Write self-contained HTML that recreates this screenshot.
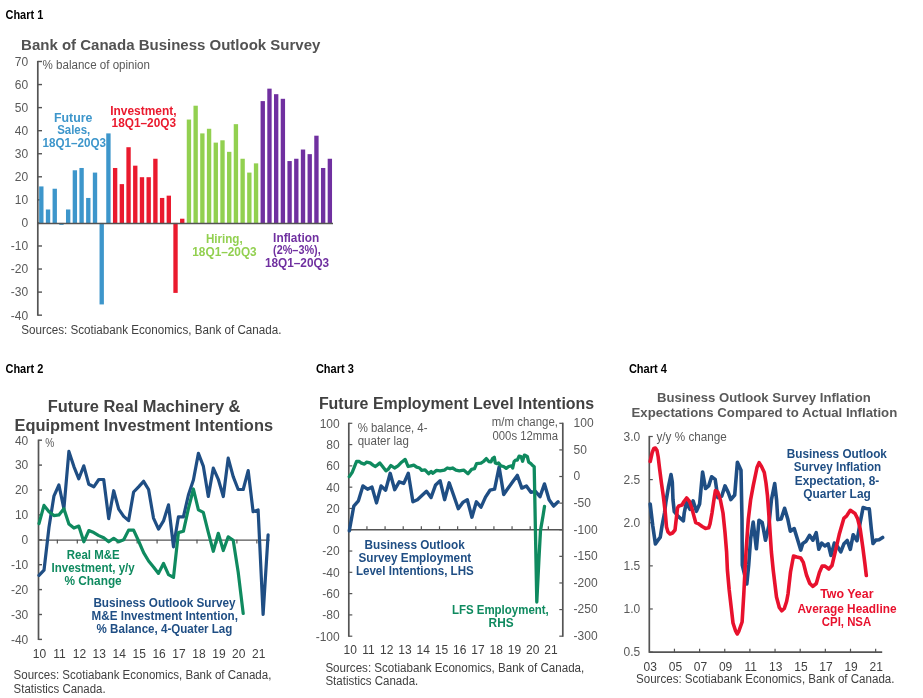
<!DOCTYPE html>
<html lang="en"><head><meta charset="utf-8"><title>Charts</title>
<style>
html,body{margin:0;padding:0;background:#fff;}
body{width:923px;height:698px;overflow:hidden;}
svg{display:block;font-family:'Liberation Sans', Arial, sans-serif;}
</style></head><body>
<svg width="923" height="698" viewBox="0 0 923 698">
<rect width="923" height="698" fill="#fff"/>
<text x="5.5" y="18.7" font-size="13.2" fill="#000" font-weight="bold" text-anchor="start" textLength="37.8" lengthAdjust="spacingAndGlyphs">Chart 1</text>
<text x="5.5" y="372.9" font-size="13.2" fill="#000" font-weight="bold" text-anchor="start" textLength="37.8" lengthAdjust="spacingAndGlyphs">Chart 2</text>
<text x="315.9" y="373.2" font-size="13.2" fill="#000" font-weight="bold" text-anchor="start" textLength="38.0" lengthAdjust="spacingAndGlyphs">Chart 3</text>
<text x="628.9" y="373.2" font-size="13.2" fill="#000" font-weight="bold" text-anchor="start" textLength="38.0" lengthAdjust="spacingAndGlyphs">Chart 4</text>
<text x="21.1" y="49.7" font-size="15" fill="#525252" font-weight="bold" text-anchor="start" textLength="299.3" lengthAdjust="spacingAndGlyphs">Bank of Canada Business Outlook Survey</text>
<line x1="37.80" y1="60.90" x2="37.80" y2="315.76" stroke="#545454" stroke-width="1.7"/>
<line x1="37.80" y1="61.50" x2="42.00" y2="61.50" stroke="#545454" stroke-width="1.4"/>
<text x="28.2" y="65.8" font-size="12" fill="#595959" font-weight="normal" text-anchor="end">70</text>
<line x1="37.80" y1="84.56" x2="42.00" y2="84.56" stroke="#545454" stroke-width="1.4"/>
<text x="28.2" y="88.9" font-size="12" fill="#595959" font-weight="normal" text-anchor="end">60</text>
<line x1="37.80" y1="107.62" x2="42.00" y2="107.62" stroke="#545454" stroke-width="1.4"/>
<text x="28.2" y="111.9" font-size="12" fill="#595959" font-weight="normal" text-anchor="end">50</text>
<line x1="37.80" y1="130.68" x2="42.00" y2="130.68" stroke="#545454" stroke-width="1.4"/>
<text x="28.2" y="135.0" font-size="12" fill="#595959" font-weight="normal" text-anchor="end">40</text>
<line x1="37.80" y1="153.74" x2="42.00" y2="153.74" stroke="#545454" stroke-width="1.4"/>
<text x="28.2" y="158.0" font-size="12" fill="#595959" font-weight="normal" text-anchor="end">30</text>
<line x1="37.80" y1="176.80" x2="42.00" y2="176.80" stroke="#545454" stroke-width="1.4"/>
<text x="28.2" y="181.1" font-size="12" fill="#595959" font-weight="normal" text-anchor="end">20</text>
<line x1="37.80" y1="199.86" x2="42.00" y2="199.86" stroke="#545454" stroke-width="1.4"/>
<text x="28.2" y="204.2" font-size="12" fill="#595959" font-weight="normal" text-anchor="end">10</text>
<line x1="37.80" y1="222.92" x2="42.00" y2="222.92" stroke="#545454" stroke-width="1.4"/>
<text x="28.2" y="227.2" font-size="12" fill="#595959" font-weight="normal" text-anchor="end">0</text>
<line x1="37.80" y1="245.98" x2="42.00" y2="245.98" stroke="#545454" stroke-width="1.4"/>
<text x="28.2" y="250.3" font-size="12" fill="#595959" font-weight="normal" text-anchor="end">-10</text>
<line x1="37.80" y1="269.04" x2="42.00" y2="269.04" stroke="#545454" stroke-width="1.4"/>
<text x="28.2" y="273.3" font-size="12" fill="#595959" font-weight="normal" text-anchor="end">-20</text>
<line x1="37.80" y1="292.10" x2="42.00" y2="292.10" stroke="#545454" stroke-width="1.4"/>
<text x="28.2" y="296.4" font-size="12" fill="#595959" font-weight="normal" text-anchor="end">-30</text>
<line x1="37.80" y1="315.16" x2="42.00" y2="315.16" stroke="#545454" stroke-width="1.4"/>
<text x="28.2" y="319.5" font-size="12" fill="#595959" font-weight="normal" text-anchor="end">-40</text>
<text x="42.5" y="69.3" font-size="12" fill="#595959" font-weight="normal" text-anchor="start" textLength="107.5" lengthAdjust="spacingAndGlyphs">% balance of opinion</text>
<rect x="39.15" y="186.42" width="4.35" height="36.90" fill="#3d96cb"/>
<rect x="45.86" y="209.48" width="4.35" height="13.84" fill="#3d96cb"/>
<rect x="52.57" y="188.73" width="4.35" height="34.59" fill="#3d96cb"/>
<rect x="59.28" y="222.92" width="4.35" height="1.95" fill="#3d96cb"/>
<rect x="65.99" y="209.48" width="4.35" height="13.84" fill="#3d96cb"/>
<rect x="72.70" y="170.28" width="4.35" height="53.04" fill="#3d96cb"/>
<rect x="79.41" y="167.98" width="4.35" height="55.34" fill="#3d96cb"/>
<rect x="86.12" y="197.95" width="4.35" height="25.37" fill="#3d96cb"/>
<rect x="92.83" y="172.59" width="4.35" height="50.73" fill="#3d96cb"/>
<rect x="99.54" y="222.92" width="4.35" height="81.51" fill="#3d96cb"/>
<rect x="106.25" y="133.39" width="4.35" height="89.93" fill="#3d96cb"/>
<rect x="112.96" y="167.98" width="4.35" height="55.34" fill="#ea1a2e"/>
<rect x="119.67" y="184.12" width="4.35" height="39.20" fill="#ea1a2e"/>
<rect x="126.38" y="147.22" width="4.35" height="76.10" fill="#ea1a2e"/>
<rect x="133.09" y="165.67" width="4.35" height="57.65" fill="#ea1a2e"/>
<rect x="139.80" y="177.20" width="4.35" height="46.12" fill="#ea1a2e"/>
<rect x="146.51" y="177.20" width="4.35" height="46.12" fill="#ea1a2e"/>
<rect x="153.22" y="158.75" width="4.35" height="64.57" fill="#ea1a2e"/>
<rect x="159.93" y="197.95" width="4.35" height="25.37" fill="#ea1a2e"/>
<rect x="166.64" y="195.65" width="4.35" height="27.67" fill="#ea1a2e"/>
<rect x="173.35" y="222.92" width="4.35" height="69.98" fill="#ea1a2e"/>
<rect x="180.06" y="218.71" width="4.35" height="4.61" fill="#ea1a2e"/>
<rect x="186.77" y="119.55" width="4.35" height="103.77" fill="#92d050"/>
<rect x="193.48" y="105.71" width="4.35" height="117.61" fill="#92d050"/>
<rect x="200.19" y="133.39" width="4.35" height="89.93" fill="#92d050"/>
<rect x="206.90" y="128.77" width="4.35" height="94.55" fill="#92d050"/>
<rect x="213.61" y="142.61" width="4.35" height="80.71" fill="#92d050"/>
<rect x="220.32" y="140.30" width="4.35" height="83.02" fill="#92d050"/>
<rect x="227.03" y="151.83" width="4.35" height="71.49" fill="#92d050"/>
<rect x="233.74" y="124.16" width="4.35" height="99.16" fill="#92d050"/>
<rect x="240.45" y="158.75" width="4.35" height="64.57" fill="#92d050"/>
<rect x="247.16" y="172.59" width="4.35" height="50.73" fill="#92d050"/>
<rect x="253.87" y="163.36" width="4.35" height="59.96" fill="#92d050"/>
<rect x="260.58" y="101.10" width="4.35" height="122.22" fill="#7030a0"/>
<rect x="267.29" y="88.65" width="4.35" height="134.67" fill="#7030a0"/>
<rect x="274.00" y="94.18" width="4.35" height="129.14" fill="#7030a0"/>
<rect x="280.71" y="98.80" width="4.35" height="124.52" fill="#7030a0"/>
<rect x="287.42" y="161.06" width="4.35" height="62.26" fill="#7030a0"/>
<rect x="294.13" y="158.75" width="4.35" height="64.57" fill="#7030a0"/>
<rect x="300.84" y="149.53" width="4.35" height="73.79" fill="#7030a0"/>
<rect x="307.55" y="154.14" width="4.35" height="69.18" fill="#7030a0"/>
<rect x="314.26" y="135.69" width="4.35" height="87.63" fill="#7030a0"/>
<rect x="320.97" y="167.98" width="4.35" height="55.34" fill="#7030a0"/>
<rect x="327.68" y="158.75" width="4.35" height="64.57" fill="#7030a0"/>
<line x1="37.80" y1="223.52" x2="333.00" y2="223.52" stroke="#545454" stroke-width="1.5"/>
<text x="54.0" y="121.6" font-size="12" fill="#3d96cb" font-weight="bold" text-anchor="start" textLength="38.4" lengthAdjust="spacingAndGlyphs">Future</text>
<text x="57.2" y="134.3" font-size="12" fill="#3d96cb" font-weight="bold" text-anchor="start" textLength="33.1" lengthAdjust="spacingAndGlyphs">Sales,</text>
<text x="42.6" y="147.3" font-size="12" fill="#3d96cb" font-weight="bold" text-anchor="start" textLength="63.5" lengthAdjust="spacingAndGlyphs">18Q1–20Q3</text>
<text x="110.2" y="114.7" font-size="12" fill="#ea1a2e" font-weight="bold" text-anchor="start" textLength="66.3" lengthAdjust="spacingAndGlyphs">Investment,</text>
<text x="111.6" y="127.4" font-size="12" fill="#ea1a2e" font-weight="bold" text-anchor="start" textLength="64.4" lengthAdjust="spacingAndGlyphs">18Q1–20Q3</text>
<text x="205.9" y="242.8" font-size="12" fill="#92d050" font-weight="bold" text-anchor="start" textLength="36.8" lengthAdjust="spacingAndGlyphs">Hiring,</text>
<text x="192.3" y="255.7" font-size="12" fill="#92d050" font-weight="bold" text-anchor="start" textLength="64.4" lengthAdjust="spacingAndGlyphs">18Q1–20Q3</text>
<text x="273.1" y="241.5" font-size="12" fill="#7030a0" font-weight="bold" text-anchor="start" textLength="46.1" lengthAdjust="spacingAndGlyphs">Inflation</text>
<text x="273.1" y="254.2" font-size="12" fill="#7030a0" font-weight="bold" text-anchor="start" textLength="47.6" lengthAdjust="spacingAndGlyphs">(2%–3%),</text>
<text x="264.9" y="267.3" font-size="12" fill="#7030a0" font-weight="bold" text-anchor="start" textLength="64.3" lengthAdjust="spacingAndGlyphs">18Q1–20Q3</text>
<text x="21.3" y="334.2" font-size="12" fill="#404040" font-weight="normal" text-anchor="start" textLength="260.1" lengthAdjust="spacingAndGlyphs">Sources: Scotiabank Economics, Bank of Canada.</text>
<text x="47.8" y="412.3" font-size="16" fill="#424242" font-weight="bold" text-anchor="start" textLength="192.7" lengthAdjust="spacingAndGlyphs">Future Real Machinery &amp;</text>
<text x="14.6" y="431.1" font-size="16" fill="#424242" font-weight="bold" text-anchor="start" textLength="258.4" lengthAdjust="spacingAndGlyphs">Equipment Investment Intentions</text>
<line x1="38.50" y1="439.60" x2="38.50" y2="640.00" stroke="#545454" stroke-width="1.7"/>
<line x1="38.50" y1="440.20" x2="42.00" y2="440.20" stroke="#545454" stroke-width="1.4"/>
<text x="28.3" y="444.5" font-size="12" fill="#595959" font-weight="normal" text-anchor="end">40</text>
<line x1="38.50" y1="465.10" x2="42.00" y2="465.10" stroke="#545454" stroke-width="1.4"/>
<text x="28.3" y="469.4" font-size="12" fill="#595959" font-weight="normal" text-anchor="end">30</text>
<line x1="38.50" y1="490.00" x2="42.00" y2="490.00" stroke="#545454" stroke-width="1.4"/>
<text x="28.3" y="494.3" font-size="12" fill="#595959" font-weight="normal" text-anchor="end">20</text>
<line x1="38.50" y1="514.90" x2="42.00" y2="514.90" stroke="#545454" stroke-width="1.4"/>
<text x="28.3" y="519.2" font-size="12" fill="#595959" font-weight="normal" text-anchor="end">10</text>
<line x1="38.50" y1="539.80" x2="42.00" y2="539.80" stroke="#545454" stroke-width="1.4"/>
<text x="28.3" y="544.1" font-size="12" fill="#595959" font-weight="normal" text-anchor="end">0</text>
<line x1="38.50" y1="564.70" x2="42.00" y2="564.70" stroke="#545454" stroke-width="1.4"/>
<text x="28.3" y="569.0" font-size="12" fill="#595959" font-weight="normal" text-anchor="end">-10</text>
<line x1="38.50" y1="589.60" x2="42.00" y2="589.60" stroke="#545454" stroke-width="1.4"/>
<text x="28.3" y="593.9" font-size="12" fill="#595959" font-weight="normal" text-anchor="end">-20</text>
<line x1="38.50" y1="614.50" x2="42.00" y2="614.50" stroke="#545454" stroke-width="1.4"/>
<text x="28.3" y="618.8" font-size="12" fill="#595959" font-weight="normal" text-anchor="end">-30</text>
<line x1="38.50" y1="639.40" x2="42.00" y2="639.40" stroke="#545454" stroke-width="1.4"/>
<text x="28.3" y="643.7" font-size="12" fill="#595959" font-weight="normal" text-anchor="end">-40</text>
<text x="45.2" y="447.0" font-size="12" fill="#595959" font-weight="normal" text-anchor="start" textLength="9.0" lengthAdjust="spacingAndGlyphs">%</text>
<line x1="38.50" y1="540.10" x2="269.50" y2="540.10" stroke="#545454" stroke-width="1.4"/>
<text x="39.5" y="657.5" font-size="12" fill="#404040" font-weight="normal" text-anchor="middle">10</text>
<line x1="57.35" y1="539.80" x2="57.35" y2="543.60" stroke="#545454" stroke-width="1.2"/>
<text x="59.4" y="657.5" font-size="12" fill="#404040" font-weight="normal" text-anchor="middle">11</text>
<line x1="77.30" y1="539.80" x2="77.30" y2="543.60" stroke="#545454" stroke-width="1.2"/>
<text x="79.4" y="657.5" font-size="12" fill="#404040" font-weight="normal" text-anchor="middle">12</text>
<line x1="97.25" y1="539.80" x2="97.25" y2="543.60" stroke="#545454" stroke-width="1.2"/>
<text x="99.3" y="657.5" font-size="12" fill="#404040" font-weight="normal" text-anchor="middle">13</text>
<line x1="117.20" y1="539.80" x2="117.20" y2="543.60" stroke="#545454" stroke-width="1.2"/>
<text x="119.2" y="657.5" font-size="12" fill="#404040" font-weight="normal" text-anchor="middle">14</text>
<line x1="137.15" y1="539.80" x2="137.15" y2="543.60" stroke="#545454" stroke-width="1.2"/>
<text x="139.2" y="657.5" font-size="12" fill="#404040" font-weight="normal" text-anchor="middle">15</text>
<line x1="157.10" y1="539.80" x2="157.10" y2="543.60" stroke="#545454" stroke-width="1.2"/>
<text x="159.1" y="657.5" font-size="12" fill="#404040" font-weight="normal" text-anchor="middle">16</text>
<line x1="177.05" y1="539.80" x2="177.05" y2="543.60" stroke="#545454" stroke-width="1.2"/>
<text x="179.0" y="657.5" font-size="12" fill="#404040" font-weight="normal" text-anchor="middle">17</text>
<line x1="197.00" y1="539.80" x2="197.00" y2="543.60" stroke="#545454" stroke-width="1.2"/>
<text x="198.9" y="657.5" font-size="12" fill="#404040" font-weight="normal" text-anchor="middle">18</text>
<line x1="216.95" y1="539.80" x2="216.95" y2="543.60" stroke="#545454" stroke-width="1.2"/>
<text x="218.9" y="657.5" font-size="12" fill="#404040" font-weight="normal" text-anchor="middle">19</text>
<line x1="236.90" y1="539.80" x2="236.90" y2="543.60" stroke="#545454" stroke-width="1.2"/>
<text x="238.8" y="657.5" font-size="12" fill="#404040" font-weight="normal" text-anchor="middle">20</text>
<line x1="256.85" y1="539.80" x2="256.85" y2="543.60" stroke="#545454" stroke-width="1.2"/>
<text x="258.7" y="657.5" font-size="12" fill="#404040" font-weight="normal" text-anchor="middle">21</text>
<polyline points="39.0,575.4 44.0,570.2 49.0,527.3 53.9,496.2 58.9,485.0 63.9,508.7 68.9,451.4 73.9,466.6 78.8,478.8 83.8,465.8 88.8,484.3 93.8,486.8 98.8,479.5 103.7,479.5 108.7,518.6 113.7,490.7 118.7,509.2 123.7,516.4 128.6,520.6 133.6,492.0 138.6,486.8 143.6,481.3 148.6,489.5 153.5,518.1 158.5,529.1 163.5,520.9 168.5,504.9 173.5,546.8 178.4,516.9 183.4,516.9 188.4,495.0 193.4,480.0 198.4,453.4 203.3,466.1 208.3,496.5 213.3,468.1 218.3,479.3 223.3,496.5 228.2,458.1 233.2,476.6 238.2,489.5 243.2,489.5 248.2,470.6 253.1,511.7 258.1,509.9 263.1,614.5 268.1,534.8" fill="none" stroke="#1f4e84" stroke-width="3.2" stroke-linejoin="round" stroke-linecap="round"/>
<polyline points="39.0,523.6 44.0,505.4 49.0,511.7 53.9,515.6 58.9,514.9 63.9,508.7 68.9,524.1 73.9,528.1 78.8,526.1 83.8,541.8 88.8,530.6 93.8,532.6 98.8,535.6 103.7,537.8 108.7,541.8 113.7,538.3 118.7,541.8 123.7,539.8 128.6,530.1 133.6,530.1 138.6,541.0 143.6,552.7 148.6,561.0 153.5,566.9 158.5,573.4 163.5,563.5 168.5,574.7 173.5,577.4 178.4,532.6 183.4,531.3 188.4,508.7 193.4,489.0 198.4,509.9 203.3,512.4 208.3,532.3 213.3,551.3 218.3,533.3 223.3,550.5 228.2,536.8 233.2,540.3 238.2,572.2 243.2,613.5" fill="none" stroke="#0f8a5f" stroke-width="3.2" stroke-linejoin="round" stroke-linecap="round"/>
<text x="66.8" y="558.5" font-size="12" fill="#0f8a5f" font-weight="bold" text-anchor="start" textLength="52.9" lengthAdjust="spacingAndGlyphs">Real M&amp;E</text>
<text x="51.5" y="571.8" font-size="12" fill="#0f8a5f" font-weight="bold" text-anchor="start" textLength="83.2" lengthAdjust="spacingAndGlyphs">Investment, y/y</text>
<text x="64.5" y="585.4" font-size="12" fill="#0f8a5f" font-weight="bold" text-anchor="start" textLength="57.2" lengthAdjust="spacingAndGlyphs">% Change</text>
<text x="93.4" y="607.0" font-size="12" fill="#1f4e84" font-weight="bold" text-anchor="start" textLength="142.2" lengthAdjust="spacingAndGlyphs">Business Outlook Survey</text>
<text x="91.6" y="619.8" font-size="12" fill="#1f4e84" font-weight="bold" text-anchor="start" textLength="146.3" lengthAdjust="spacingAndGlyphs">M&amp;E Investment Intention,</text>
<text x="96.6" y="633.3" font-size="12" fill="#1f4e84" font-weight="bold" text-anchor="start" textLength="135.8" lengthAdjust="spacingAndGlyphs">% Balance, 4-Quater Lag</text>
<text x="13.6" y="679.0" font-size="12" fill="#404040" font-weight="normal" text-anchor="start" textLength="257.8" lengthAdjust="spacingAndGlyphs">Sources: Scotiabank Economics, Bank of Canada,</text>
<text x="13.6" y="692.5" font-size="12" fill="#404040" font-weight="normal" text-anchor="start" textLength="92.0" lengthAdjust="spacingAndGlyphs">Statistics Canada.</text>
<text x="318.9" y="408.6" font-size="15.6" fill="#404040" font-weight="bold" text-anchor="start" textLength="275.3" lengthAdjust="spacingAndGlyphs">Future Employment Level Intentions</text>
<line x1="348.80" y1="422.70" x2="348.80" y2="636.80" stroke="#545454" stroke-width="1.7"/>
<line x1="562.80" y1="422.70" x2="562.80" y2="636.80" stroke="#545454" stroke-width="1.7"/>
<line x1="348.80" y1="423.30" x2="352.30" y2="423.30" stroke="#545454" stroke-width="1.2"/>
<text x="339.7" y="427.6" font-size="12" fill="#595959" font-weight="normal" text-anchor="end">100</text>
<line x1="348.80" y1="444.59" x2="352.30" y2="444.59" stroke="#545454" stroke-width="1.2"/>
<text x="339.7" y="448.9" font-size="12" fill="#595959" font-weight="normal" text-anchor="end">80</text>
<line x1="348.80" y1="465.88" x2="352.30" y2="465.88" stroke="#545454" stroke-width="1.2"/>
<text x="339.7" y="470.2" font-size="12" fill="#595959" font-weight="normal" text-anchor="end">60</text>
<line x1="348.80" y1="487.17" x2="352.30" y2="487.17" stroke="#545454" stroke-width="1.2"/>
<text x="339.7" y="491.5" font-size="12" fill="#595959" font-weight="normal" text-anchor="end">40</text>
<line x1="348.80" y1="508.46" x2="352.30" y2="508.46" stroke="#545454" stroke-width="1.2"/>
<text x="339.7" y="512.8" font-size="12" fill="#595959" font-weight="normal" text-anchor="end">20</text>
<line x1="348.80" y1="529.75" x2="352.30" y2="529.75" stroke="#545454" stroke-width="1.2"/>
<text x="339.7" y="534.0" font-size="12" fill="#595959" font-weight="normal" text-anchor="end">0</text>
<line x1="348.80" y1="551.04" x2="352.30" y2="551.04" stroke="#545454" stroke-width="1.2"/>
<text x="339.7" y="555.3" font-size="12" fill="#595959" font-weight="normal" text-anchor="end">-20</text>
<line x1="348.80" y1="572.33" x2="352.30" y2="572.33" stroke="#545454" stroke-width="1.2"/>
<text x="339.7" y="576.6" font-size="12" fill="#595959" font-weight="normal" text-anchor="end">-40</text>
<line x1="348.80" y1="593.62" x2="352.30" y2="593.62" stroke="#545454" stroke-width="1.2"/>
<text x="339.7" y="597.9" font-size="12" fill="#595959" font-weight="normal" text-anchor="end">-60</text>
<line x1="348.80" y1="614.91" x2="352.30" y2="614.91" stroke="#545454" stroke-width="1.2"/>
<text x="339.7" y="619.2" font-size="12" fill="#595959" font-weight="normal" text-anchor="end">-80</text>
<line x1="348.80" y1="636.20" x2="352.30" y2="636.20" stroke="#545454" stroke-width="1.2"/>
<text x="339.7" y="640.5" font-size="12" fill="#595959" font-weight="normal" text-anchor="end">-100</text>
<line x1="559.30" y1="423.30" x2="562.80" y2="423.30" stroke="#545454" stroke-width="1.2"/>
<text x="573.6" y="427.1" font-size="12" fill="#595959" font-weight="normal" text-anchor="start">100</text>
<line x1="559.30" y1="449.91" x2="562.80" y2="449.91" stroke="#545454" stroke-width="1.2"/>
<text x="573.6" y="453.7" font-size="12" fill="#595959" font-weight="normal" text-anchor="start">50</text>
<line x1="559.30" y1="476.52" x2="562.80" y2="476.52" stroke="#545454" stroke-width="1.2"/>
<text x="573.6" y="480.3" font-size="12" fill="#595959" font-weight="normal" text-anchor="start">0</text>
<line x1="559.30" y1="503.13" x2="562.80" y2="503.13" stroke="#545454" stroke-width="1.2"/>
<text x="573.6" y="506.9" font-size="12" fill="#595959" font-weight="normal" text-anchor="start">-50</text>
<line x1="559.30" y1="529.74" x2="562.80" y2="529.74" stroke="#545454" stroke-width="1.2"/>
<text x="573.6" y="533.5" font-size="12" fill="#595959" font-weight="normal" text-anchor="start">-100</text>
<line x1="559.30" y1="556.35" x2="562.80" y2="556.35" stroke="#545454" stroke-width="1.2"/>
<text x="573.6" y="560.1" font-size="12" fill="#595959" font-weight="normal" text-anchor="start">-150</text>
<line x1="559.30" y1="582.96" x2="562.80" y2="582.96" stroke="#545454" stroke-width="1.2"/>
<text x="573.6" y="586.8" font-size="12" fill="#595959" font-weight="normal" text-anchor="start">-200</text>
<line x1="559.30" y1="609.57" x2="562.80" y2="609.57" stroke="#545454" stroke-width="1.2"/>
<text x="573.6" y="613.4" font-size="12" fill="#595959" font-weight="normal" text-anchor="start">-250</text>
<line x1="559.30" y1="636.18" x2="562.80" y2="636.18" stroke="#545454" stroke-width="1.2"/>
<text x="573.6" y="640.0" font-size="12" fill="#595959" font-weight="normal" text-anchor="start">-300</text>
<line x1="348.80" y1="529.75" x2="562.80" y2="529.75" stroke="#545454" stroke-width="1.5"/>
<text x="350.3" y="653.6" font-size="12" fill="#404040" font-weight="normal" text-anchor="middle">10</text>
<line x1="366.94" y1="526.25" x2="366.94" y2="529.75" stroke="#545454" stroke-width="1.2"/>
<text x="368.5" y="653.6" font-size="12" fill="#404040" font-weight="normal" text-anchor="middle">11</text>
<line x1="385.08" y1="526.25" x2="385.08" y2="529.75" stroke="#545454" stroke-width="1.2"/>
<text x="386.8" y="653.6" font-size="12" fill="#404040" font-weight="normal" text-anchor="middle">12</text>
<line x1="403.22" y1="526.25" x2="403.22" y2="529.75" stroke="#545454" stroke-width="1.2"/>
<text x="405.0" y="653.6" font-size="12" fill="#404040" font-weight="normal" text-anchor="middle">13</text>
<line x1="421.36" y1="526.25" x2="421.36" y2="529.75" stroke="#545454" stroke-width="1.2"/>
<text x="423.3" y="653.6" font-size="12" fill="#404040" font-weight="normal" text-anchor="middle">14</text>
<line x1="439.50" y1="526.25" x2="439.50" y2="529.75" stroke="#545454" stroke-width="1.2"/>
<text x="441.5" y="653.6" font-size="12" fill="#404040" font-weight="normal" text-anchor="middle">15</text>
<line x1="457.64" y1="526.25" x2="457.64" y2="529.75" stroke="#545454" stroke-width="1.2"/>
<text x="459.7" y="653.6" font-size="12" fill="#404040" font-weight="normal" text-anchor="middle">16</text>
<line x1="475.78" y1="526.25" x2="475.78" y2="529.75" stroke="#545454" stroke-width="1.2"/>
<text x="478.0" y="653.6" font-size="12" fill="#404040" font-weight="normal" text-anchor="middle">17</text>
<line x1="493.92" y1="526.25" x2="493.92" y2="529.75" stroke="#545454" stroke-width="1.2"/>
<text x="496.2" y="653.6" font-size="12" fill="#404040" font-weight="normal" text-anchor="middle">18</text>
<line x1="512.06" y1="526.25" x2="512.06" y2="529.75" stroke="#545454" stroke-width="1.2"/>
<text x="514.5" y="653.6" font-size="12" fill="#404040" font-weight="normal" text-anchor="middle">19</text>
<line x1="530.20" y1="526.25" x2="530.20" y2="529.75" stroke="#545454" stroke-width="1.2"/>
<text x="532.7" y="653.6" font-size="12" fill="#404040" font-weight="normal" text-anchor="middle">20</text>
<line x1="548.34" y1="526.25" x2="548.34" y2="529.75" stroke="#545454" stroke-width="1.2"/>
<text x="550.9" y="653.6" font-size="12" fill="#404040" font-weight="normal" text-anchor="middle">21</text>
<text x="357.7" y="431.8" font-size="12" fill="#595959" font-weight="normal" text-anchor="start" textLength="69.8" lengthAdjust="spacingAndGlyphs">% balance, 4-</text>
<text x="357.7" y="445.4" font-size="12" fill="#595959" font-weight="normal" text-anchor="start" textLength="51.2" lengthAdjust="spacingAndGlyphs">quater lag</text>
<text x="491.8" y="426.3" font-size="12" fill="#595959" font-weight="normal" text-anchor="start" textLength="66.2" lengthAdjust="spacingAndGlyphs">m/m change,</text>
<text x="492.5" y="439.8" font-size="12" fill="#595959" font-weight="normal" text-anchor="start" textLength="65.5" lengthAdjust="spacingAndGlyphs">000s 12mma</text>
<polyline points="349.3,530.9 353.8,506.1 358.4,500.8 362.9,486.0 367.5,489.2 372.0,487.1 376.5,502.9 381.1,486.0 385.6,490.2 390.2,473.3 394.7,489.7 399.2,481.8 403.8,483.4 408.3,473.3 412.9,501.8 417.4,499.7 421.9,495.5 426.5,491.3 431.0,497.6 435.6,484.9 440.1,480.7 444.6,499.7 449.2,482.8 453.7,495.5 458.3,508.7 462.8,502.4 467.3,499.7 471.9,517.2 476.4,501.8 481.0,507.1 485.5,497.1 490.0,490.2 494.6,489.2 499.1,467.0 503.7,494.5 508.2,488.1 512.7,481.8 517.3,475.4 521.8,488.1 526.4,486.0 530.9,492.3 535.4,491.3 540.0,496.6 544.5,483.9 549.1,499.7 553.6,506.1 558.1,501.8" fill="none" stroke="#1f4e84" stroke-width="3.4" stroke-linejoin="round" stroke-linecap="round"/>
<polyline points="349.3,476.6 352.2,472.3 354.3,467.2 356.5,461.5 359.3,461.5 361.5,463.2 364.4,464.1 366.5,462.2 370.1,462.9 373.0,465.1 375.1,466.5 377.3,465.1 379.8,462.9 382.6,466.5 385.9,470.8 388.0,469.4 390.9,465.5 394.5,468.0 398.0,465.8 401.6,462.2 405.2,459.4 408.1,466.5 411.0,465.8 413.8,465.1 416.7,467.2 419.6,468.0 421.7,470.4 425.0,469.8 428.6,473.7 431.1,471.5 432.9,473.3 436.5,470.4 440.1,470.8 444.4,470.1 447.3,468.0 450.1,468.7 452.6,468.0 455.9,470.1 459.4,470.8 463.7,470.1 468.0,473.7 471.6,469.4 474.5,468.7 476.6,463.7 481.0,463.2 483.5,461.5 486.3,458.6 488.8,461.5 491.0,461.8 492.5,458.6 494.3,457.2 495.3,462.9 497.2,463.7 498.6,462.9 500.8,465.8 503.6,466.5 506.2,468.4 508.7,466.5 511.5,465.8 512.7,468.0 514.1,461.5 515.8,460.1 517.3,460.1 519.1,456.1 521.1,456.5 522.6,461.2 524.4,455.1 527.3,456.5 528.7,462.2 530.9,463.7 533.0,465.8 534.2,466.8 534.8,497.3 535.7,545.0 536.8,602.0 538.9,560.0 540.5,530.4 543.0,516.0 544.5,506.5" fill="none" stroke="#0f8a5f" stroke-width="3.3" stroke-linejoin="round" stroke-linecap="round"/>
<text x="364.6" y="549.0" font-size="12" fill="#1f4e84" font-weight="bold" text-anchor="start" textLength="100.1" lengthAdjust="spacingAndGlyphs">Business Outlook</text>
<text x="358.5" y="562.2" font-size="12" fill="#1f4e84" font-weight="bold" text-anchor="start" textLength="112.7" lengthAdjust="spacingAndGlyphs">Survey Employment</text>
<text x="355.9" y="575.2" font-size="12" fill="#1f4e84" font-weight="bold" text-anchor="start" textLength="117.9" lengthAdjust="spacingAndGlyphs">Level Intentions, LHS</text>
<text x="451.9" y="614.0" font-size="12" fill="#0f8a5f" font-weight="bold" text-anchor="start" textLength="96.9" lengthAdjust="spacingAndGlyphs">LFS Employment,</text>
<text x="488.6" y="626.7" font-size="12" fill="#0f8a5f" font-weight="bold" text-anchor="start" textLength="25.0" lengthAdjust="spacingAndGlyphs">RHS</text>
<text x="325.4" y="672.0" font-size="12" fill="#404040" font-weight="normal" text-anchor="start" textLength="258.9" lengthAdjust="spacingAndGlyphs">Sources: Scotiabank Economics, Bank of Canada,</text>
<text x="325.4" y="685.2" font-size="12" fill="#404040" font-weight="normal" text-anchor="start" textLength="92.9" lengthAdjust="spacingAndGlyphs">Statistics Canada.</text>
<text x="657.0" y="401.7" font-size="13" fill="#595959" font-weight="bold" text-anchor="start" textLength="213.8" lengthAdjust="spacingAndGlyphs">Business Outlook Survey Inflation</text>
<text x="631.5" y="416.8" font-size="13" fill="#595959" font-weight="bold" text-anchor="start" textLength="265.7" lengthAdjust="spacingAndGlyphs">Expectations Compared to Actual Inflation</text>
<line x1="649.30" y1="435.90" x2="649.30" y2="652.80" stroke="#545454" stroke-width="1.7"/>
<line x1="649.30" y1="436.50" x2="652.80" y2="436.50" stroke="#545454" stroke-width="1.2"/>
<text x="640.2" y="440.8" font-size="12" fill="#595959" font-weight="normal" text-anchor="end">3.0</text>
<line x1="649.30" y1="479.62" x2="652.80" y2="479.62" stroke="#545454" stroke-width="1.2"/>
<text x="640.2" y="483.9" font-size="12" fill="#595959" font-weight="normal" text-anchor="end">2.5</text>
<line x1="649.30" y1="522.74" x2="652.80" y2="522.74" stroke="#545454" stroke-width="1.2"/>
<text x="640.2" y="527.0" font-size="12" fill="#595959" font-weight="normal" text-anchor="end">2.0</text>
<line x1="649.30" y1="565.86" x2="652.80" y2="565.86" stroke="#545454" stroke-width="1.2"/>
<text x="640.2" y="570.2" font-size="12" fill="#595959" font-weight="normal" text-anchor="end">1.5</text>
<line x1="649.30" y1="608.98" x2="652.80" y2="608.98" stroke="#545454" stroke-width="1.2"/>
<text x="640.2" y="613.3" font-size="12" fill="#595959" font-weight="normal" text-anchor="end">1.0</text>
<line x1="649.30" y1="652.10" x2="652.80" y2="652.10" stroke="#545454" stroke-width="1.2"/>
<text x="640.2" y="656.4" font-size="12" fill="#595959" font-weight="normal" text-anchor="end">0.5</text>
<line x1="649.30" y1="652.20" x2="882.20" y2="652.20" stroke="#545454" stroke-width="1.8"/>
<text x="650.3" y="670.6" font-size="12" fill="#404040" font-weight="normal" text-anchor="middle">03</text>
<line x1="674.45" y1="648.70" x2="674.45" y2="652.20" stroke="#545454" stroke-width="1.2"/>
<text x="675.4" y="670.6" font-size="12" fill="#404040" font-weight="normal" text-anchor="middle">05</text>
<line x1="699.60" y1="648.70" x2="699.60" y2="652.20" stroke="#545454" stroke-width="1.2"/>
<text x="700.5" y="670.6" font-size="12" fill="#404040" font-weight="normal" text-anchor="middle">07</text>
<line x1="724.75" y1="648.70" x2="724.75" y2="652.20" stroke="#545454" stroke-width="1.2"/>
<text x="725.6" y="670.6" font-size="12" fill="#404040" font-weight="normal" text-anchor="middle">09</text>
<line x1="749.90" y1="648.70" x2="749.90" y2="652.20" stroke="#545454" stroke-width="1.2"/>
<text x="750.7" y="670.6" font-size="12" fill="#404040" font-weight="normal" text-anchor="middle">11</text>
<line x1="775.05" y1="648.70" x2="775.05" y2="652.20" stroke="#545454" stroke-width="1.2"/>
<text x="775.8" y="670.6" font-size="12" fill="#404040" font-weight="normal" text-anchor="middle">13</text>
<line x1="800.20" y1="648.70" x2="800.20" y2="652.20" stroke="#545454" stroke-width="1.2"/>
<text x="800.9" y="670.6" font-size="12" fill="#404040" font-weight="normal" text-anchor="middle">15</text>
<line x1="825.35" y1="648.70" x2="825.35" y2="652.20" stroke="#545454" stroke-width="1.2"/>
<text x="826.0" y="670.6" font-size="12" fill="#404040" font-weight="normal" text-anchor="middle">17</text>
<line x1="850.50" y1="648.70" x2="850.50" y2="652.20" stroke="#545454" stroke-width="1.2"/>
<text x="851.1" y="670.6" font-size="12" fill="#404040" font-weight="normal" text-anchor="middle">19</text>
<line x1="875.65" y1="648.70" x2="875.65" y2="652.20" stroke="#545454" stroke-width="1.2"/>
<text x="876.2" y="670.6" font-size="12" fill="#404040" font-weight="normal" text-anchor="middle">21</text>
<text x="656.5" y="440.9" font-size="12" fill="#595959" font-weight="normal" text-anchor="start" textLength="70.3" lengthAdjust="spacingAndGlyphs">y/y % change</text>
<polyline points="650.2,504.0 652.8,526.0 655.4,544.0 658.0,540.3 660.3,537.1 662.0,526.0 664.5,513.0 665.8,502.8 668.4,487.2 671.0,474.5 672.3,482.0 673.0,500.0 674.3,511.7 678.2,516.3 683.4,520.8 684.2,513.0 686.4,502.4 689.9,509.3 693.1,500.9 696.4,511.3 699.6,504.1 702.6,472.0 705.5,488.5 708.7,485.9 711.6,476.8 715.2,479.4 717.8,497.6 721.7,496.3 725.0,485.9 728.2,492.4 730.8,499.6 734.7,495.0 737.4,462.2 741.0,470.3 742.0,520.0 742.3,565.0 746.8,584.0 748.7,565.0 750.6,539.0 753.2,522.1 756.4,548.8 759.0,520.2 762.2,522.5 765.5,540.3 768.8,526.0 771.4,500.0 774.7,483.5 776.6,500.0 777.8,519.6 781.2,518.9 784.6,508.3 787.9,519.6 790.3,531.2 794.2,528.6 797.4,539.0 800.7,550.1 802.8,543.4 806.1,541.2 809.5,535.3 812.9,540.2 816.2,532.7 818.8,549.2 821.7,543.1 824.9,546.0 828.2,543.8 831.0,555.5 834.3,543.1 837.6,546.7 840.8,551.9 844.0,543.7 847.2,540.5 850.3,549.3 853.2,534.7 857.0,540.7 860.2,522.5 863.1,507.5 866.1,508.5 869.3,508.9 871.3,529.0 873.0,543.5 875.8,540.1 879.1,539.7 882.6,537.5" fill="none" stroke="#1f4e84" stroke-width="3.6" stroke-linejoin="round" stroke-linecap="round"/>
<polyline points="650.2,461.5 652.2,452.5 653.8,448.5 655.4,448.0 657.0,450.5 658.2,457.0 659.5,468.0 661.3,482.0 663.3,496.0 665.2,512.0 666.5,527.0 668.0,532.0 670.0,534.0 672.5,533.0 675.0,530.0 676.2,519.5 677.5,508.0 678.8,506.0 682.0,505.0 684.0,501.5 686.6,498.0 689.5,501.5 691.8,508.0 693.8,515.6 695.7,522.5 698.3,523.6 702.2,526.5 705.5,528.4 708.7,527.8 710.0,524.0 712.0,513.0 713.9,500.0 715.4,490.5 717.8,492.0 720.4,500.0 723.0,513.0 725.0,532.5 726.6,552.0 727.4,570.0 729.2,590.0 733.0,623.0 735.6,631.0 737.2,634.0 738.9,631.0 742.1,622.0 743.8,594.0 745.0,570.0 746.0,552.0 748.3,519.5 750.6,500.0 753.2,485.9 757.0,467.5 759.1,462.7 761.5,466.5 764.3,472.5 766.0,483.0 767.5,496.0 769.3,521.0 771.4,552.0 773.2,570.0 776.5,597.0 779.3,607.5 781.7,610.8 784.3,608.5 786.6,601.5 788.0,594.0 790.5,572.0 793.5,556.0 796.8,557.0 800.7,558.0 803.3,562.4 806.5,575.0 809.8,583.5 812.9,586.3 816.3,583.5 819.4,572.5 822.2,566.0 825.0,566.1 828.8,569.0 832.0,565.5 835.3,551.5 839.2,534.6 843.8,518.4 846.7,515.8 850.3,510.3 855.0,513.5 857.6,518.6 860.2,529.0 862.8,547.2 864.8,562.8 866.3,575.5" fill="none" stroke="#e8112d" stroke-width="3.6" stroke-linejoin="round" stroke-linecap="round"/>
<text x="786.8" y="458.2" font-size="12" fill="#1f4e84" font-weight="bold" text-anchor="start" textLength="100.1" lengthAdjust="spacingAndGlyphs">Business Outlook</text>
<text x="793.8" y="471.3" font-size="12" fill="#1f4e84" font-weight="bold" text-anchor="start" textLength="87.4" lengthAdjust="spacingAndGlyphs">Survey Inflation</text>
<text x="794.8" y="484.8" font-size="12" fill="#1f4e84" font-weight="bold" text-anchor="start" textLength="84.4" lengthAdjust="spacingAndGlyphs">Expectation, 8-</text>
<text x="803.3" y="498.0" font-size="12" fill="#1f4e84" font-weight="bold" text-anchor="start" textLength="67.5" lengthAdjust="spacingAndGlyphs">Quarter Lag</text>
<text x="820.2" y="598.2" font-size="12" fill="#e8112d" font-weight="bold" text-anchor="start" textLength="53.3" lengthAdjust="spacingAndGlyphs">Two Year</text>
<text x="797.5" y="612.5" font-size="12" fill="#e8112d" font-weight="bold" text-anchor="start" textLength="99.0" lengthAdjust="spacingAndGlyphs">Average Headline</text>
<text x="821.8" y="625.8" font-size="12" fill="#e8112d" font-weight="bold" text-anchor="start" textLength="49.4" lengthAdjust="spacingAndGlyphs">CPI, NSA</text>
<text x="636.0" y="683.0" font-size="12" fill="#404040" font-weight="normal" text-anchor="start" textLength="258.5" lengthAdjust="spacingAndGlyphs">Sources: Scotiabank Economics, Bank of Canada.</text>
</svg>
</body></html>
